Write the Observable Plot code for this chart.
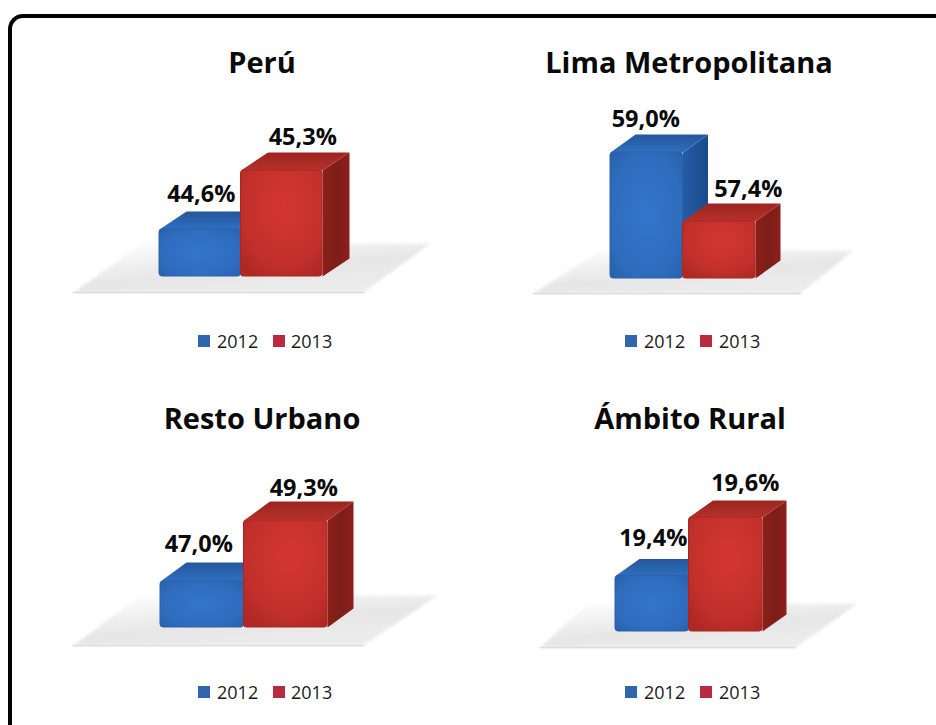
<!DOCTYPE html>
<html>
<head>
<meta charset="utf-8">
<script src="https://cdn.jsdelivr.net/npm/d3@7"></script>
<script src="https://cdn.jsdelivr.net/npm/@observablehq/plot@0.6"></script>
<style>
  html, body { margin: 0; padding: 0; background: #fff; width: 936px; height: 725px; overflow: hidden; }
  body { position: relative; font-family: "Open Sans", sans-serif; color: #111; }
  #frame { position: absolute; left: 8px; top: 14px; width: 1000px; height: 800px; box-sizing: border-box;
           border-left: 4px solid #000; border-top: 4px solid #000; border-top-left-radius: 15px; }
  .panel { position: absolute; width: 468px; height: 362px; }
  .panel svg { display: block; }
  .title { position: absolute; transform: translate(-50%, -50%); font-weight: 700; font-size: 29px; white-space: nowrap; color: #0a0a0a; }
  .sw { position: absolute; width: 12px; height: 12px; transform: translateY(-50%); }
  .lab { position: absolute; transform: translateY(-50%); font-size: 18px; color: #1a1a1a; }
</style>
</head>
<body>
<svg width="0" height="0" style="position:absolute">
  <defs>
    <radialGradient id="blueFront" cx="50%" cy="50%" r="70%">
      <stop offset="0" stop-color="#3276cc"/><stop offset="0.7" stop-color="#2f6cbd"/><stop offset="1" stop-color="#2860ab"/>
    </radialGradient>
    <radialGradient id="redFront" cx="55%" cy="35%" r="75%">
      <stop offset="0" stop-color="#d43632"/><stop offset="0.7" stop-color="#c2302b"/><stop offset="1" stop-color="#ae2825"/>
    </radialGradient>
    <linearGradient id="blueSide" x1="0" x2="1" y1="0" y2="0">
      <stop offset="0" stop-color="#235ca6"/><stop offset="1" stop-color="#1b4a8a"/>
    </linearGradient>
    <linearGradient id="redSide" x1="0" x2="1" y1="0" y2="0">
      <stop offset="0" stop-color="#8b2019"/><stop offset="0.55" stop-color="#7c1e17"/><stop offset="1" stop-color="#8f1f1c"/>
    </linearGradient>
    <linearGradient id="blueTop" x1="0" x2="0" y1="0" y2="1">
      <stop offset="0" stop-color="#24569b"/><stop offset="1" stop-color="#2f6fc0"/>
    </linearGradient>
    <linearGradient id="redTop" x1="0" x2="0" y1="0" y2="1">
      <stop offset="0" stop-color="#9c241f"/><stop offset="1" stop-color="#b5322b"/>
    </linearGradient>
    <linearGradient id="floor" x1="0" x2="0.55" y1="0.15" y2="1">
      <stop offset="0" stop-color="#fbfbfb"/><stop offset="0.6" stop-color="#e6e6e6"/><stop offset="1" stop-color="#ececec"/>
    </linearGradient>
  </defs>
</svg>
<div id="frame"></div>
<script>
// Chart values
const years = ["2012", "2013"];
const regions = ["Perú", "Lima Metropolitana", "Resto Urbano", "Ámbito Rural"];
const peru = [44.6, 45.3];
const lima = [59.0, 57.4];
const restoUrbano = [47.0, 49.3];
const ambitoRural = [19.4, 19.6];
const seriesByRegion = [peru, lima, restoUrbano, ambitoRural];
// Estimated bottom of each truncated value axis
const axisFloors = [44.04, 56.08, 45.26, 19.21];

// Layout only
const layouts = [
  {left: 0,   top: 0,   xr: [159, 322], yr: [276, 170], depth: [27, 18], floor: [[73, 292], [363, 292], [430, 243], [143, 243]],
   titleAt: [262, 61],  legendAt: [198, 217, 273, 291, 341], dx: [1, 21],    dy: [-35, -33]},
  {left: 468, top: 0,   xr: [610, 755], yr: [278, 152], depth: [25, 18], floor: [[533, 293], [800, 293], [853, 250], [600, 250]],
   titleAt: [689, 61],  legendAt: [625, 644, 700, 719, 341], dx: [-1, 29],   dy: [-33, -32]},
  {left: 0,   top: 362, xr: [160, 327], yr: [627, 520], depth: [26, 19], floor: [[73, 645], [363, 645], [437, 595], [140, 595]],
   titleAt: [262, 417], legendAt: [198, 217, 273, 291, 692], dx: [-3.5, 18], dy: [-37, -32]},
  {left: 468, top: 362, xr: [615, 762], yr: [631, 517], depth: [24, 17], floor: [[540, 647], [795, 647], [857, 603], [587, 603]],
   titleAt: [690, 417], legendAt: [625, 644, 700, 719, 692], dx: [1, 19.5],  dy: [-37, -34]}
];
const faces = [
  {front: "url(#blueFront)", edge: "#2a62ad", side: "url(#blueSide)", top: "url(#blueTop)", swatch: "#2f66ad"},
  {front: "url(#redFront)",  edge: "#a92622", side: "url(#redSide)",  top: "url(#redTop)",  swatch: "#b92a3e"}
];
const fmt = v => v.toFixed(1).replace(".", ",") + "%";

function poly(points, fill) {
  return Plot.line(points, {x: "x", y: "y", fill, stroke: "none", curve: "linear-closed"});
}

regions.forEach((region, i) => {
  const values = seriesByRegion[i];
  const L = layouts[i];
  const yMax = d3.max(values), y0 = axisFloors[i];
  // pixels per data unit, to express the 3D depth and the floor in data units
  const kx = (L.xr[1] - L.xr[0]) / 2;
  const ky = (L.yr[0] - L.yr[1]) / (yMax - y0);
  const ddx = L.depth[0] / kx, ddy = L.depth[1] / ky;
  const toData = ([px, py]) => ({x: (px - L.xr[0]) / kx, y: y0 + (L.yr[0] - py) / ky});
  const floorPts = L.floor.map(toData);

  const marks = [
    poly(floorPts, "url(#floor)"),
    Plot.line(floorPts.slice(0, 2), {x: "x", y: "y", stroke: "#dcdcdc", strokeWidth: 1.5})
  ];
  values.forEach((v, j) => {
    const a = j, b = j + 1;
    marks.push(
      poly([{x: b, y: y0}, {x: b, y: v}, {x: b + ddx, y: v + ddy}, {x: b + ddx, y: y0 + ddy}], faces[j].side),
      poly([{x: a, y: v}, {x: b, y: v}, {x: b + ddx, y: v + ddy}, {x: a + ddx, y: v + ddy}], faces[j].top),
      Plot.rect([{a, b, v}], {x1: "a", x2: "b", y1: () => y0, y2: "v", fill: faces[j].front, stroke: faces[j].edge, strokeWidth: 1, rx: 3})
    );
  });
  values.forEach((v, j) => {
    marks.push(Plot.text([{x: j + 0.5, v}], {
      x: "x", y: "v", text: d => fmt(d.v), dx: L.dx[j], dy: L.dy[j],
      fontSize: 23.5, fontWeight: 700, fontFamily: "Open Sans", fill: "#0a0a0a", lineAnchor: "middle"
    }));
  });

  const chart = Plot.plot({
    width: 468, height: 362, margin: 0,
    x: {axis: null, domain: [0, 2], range: L.xr.map(p => p - L.left)},
    y: {axis: null, domain: [y0, yMax], range: L.yr.map(p => p - L.top)},
    style: {background: "transparent", overflow: "visible"},
    marks
  });
  // soften the floor's outline, as in the reference
  const floorMark = chart.querySelector('g[aria-label="line"]');
  if (floorMark) floorMark.style.filter = "blur(1.5px)";

  const host = document.createElement("div");
  host.className = "panel";
  host.style.left = L.left + "px";
  host.style.top = L.top + "px";
  host.appendChild(chart);
  document.body.appendChild(host);

  const title = document.createElement("div");
  title.className = "title";
  title.textContent = region;
  title.style.left = L.titleAt[0] + "px";
  title.style.top = L.titleAt[1] + "px";
  document.body.appendChild(title);

  const [s1, t1, s2, t2, ly] = L.legendAt;
  [[s1, t1], [s2, t2]].forEach(([sx, tx], k) => {
    const sw = document.createElement("div");
    sw.className = "sw";
    sw.style.cssText = `left:${sx}px;top:${ly}px;background:${faces[k].swatch}`;
    document.body.appendChild(sw);
    const lab = document.createElement("div");
    lab.className = "lab";
    lab.textContent = years[k];
    lab.style.left = tx + "px";
    lab.style.top = ly + "px";
    document.body.appendChild(lab);
  });
});
</script>
</body>
</html>
